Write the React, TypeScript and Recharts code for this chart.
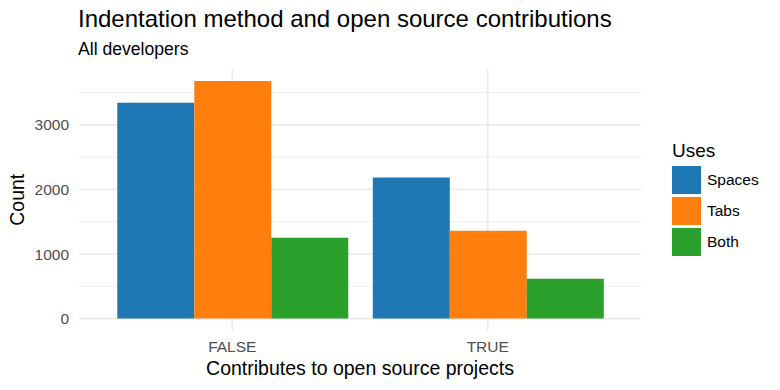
import React from "react";
import { BarChart, Bar, XAxis, YAxis, CartesianGrid } from "recharts";

const categories = ["FALSE", "TRUE"];
const spaces = [3340, 2185];
const tabs = [3680, 1360];
const both = [1250, 618];

const yTicks = [0, 1000, 2000, 3000];
const minorTicks = [500, 1500, 2500, 3500];

const series = [
  { key: "Spaces", color: "#1F77B4" },
  { key: "Tabs", color: "#FF7F0E" },
  { key: "Both", color: "#2CA02C" },
];

const data = categories.map((c, i) => ({
  name: c,
  Spaces: spaces[i],
  Tabs: tabs[i],
  Both: both[i],
}));

const FONT = '"Liberation Sans", Arial, Helvetica, sans-serif';

export default function App() {
  return (
    <div
      style={{
        position: "absolute",
        left: 0,
        top: 0,
        width: 780,
        height: 390,
        background: "#fff",
        fontFamily: FONT,
      }}
    >
      <BarChart
        width={780}
        height={390}
        data={data}
        margin={{ top: 69, right: 139, bottom: 29.5, left: 0 }}
        barCategoryGap="5%"
        barGap={0}
      >
        <CartesianGrid
          vertical={false}
          horizontalValues={minorTicks}
          stroke="#EFEFEF"
          strokeWidth={1}
        />
        <CartesianGrid
          horizontalValues={yTicks}
          verticalValues={categories}
          stroke="#EBEBEB"
          strokeWidth={1.7}
        />
        <XAxis
          dataKey="name"
          height={30}
          padding={{ left: 25.5, right: 25.5 }}
          axisLine={false}
          tickLine={false}
          tickSize={0}
          tickMargin={10}
          tick={{ fill: "#4D4D4D", fontSize: 15.5, fontFamily: FONT }}
        />
        <YAxis
          width={79}
          domain={[-184, 3864]}
          ticks={yTicks}
          allowDataOverflow
          axisLine={false}
          tickLine={false}
          tickSize={0}
          tickMargin={10}
          tick={{ fill: "#4D4D4D", fontSize: 15.5, fontFamily: FONT }}
        />
        {series.map((s) => (
          <Bar key={s.key} dataKey={s.key} fill={s.color} isAnimationActive={false} />
        ))}
      </BarChart>

      <div style={{ position: "absolute", left: 78, top: 7, fontSize: 24, lineHeight: "24px", color: "#000", whiteSpace: "nowrap" }}>
        Indentation method and open source contributions
      </div>
      <div style={{ position: "absolute", left: 78, top: 41, fontSize: 17.6, lineHeight: "17.6px", color: "#000", whiteSpace: "nowrap" }}>
        All developers
      </div>
      <div
        style={{
          position: "absolute",
          left: 79,
          width: 562,
          top: 358.5,
          textAlign: "center",
          fontSize: 19.5,
          lineHeight: "19.5px",
          color: "#000",
          whiteSpace: "nowrap",
        }}
      >
        Contributes to open source projects
      </div>
      <div
        style={{
          position: "absolute",
          left: 18.25 - 100,
          top: 200 - 9.75,
          width: 200,
          height: 19.5,
          textAlign: "center",
          fontSize: 19.5,
          lineHeight: "19.5px",
          color: "#000",
          transform: "rotate(-90deg)",
          whiteSpace: "nowrap",
        }}
      >
        Count
      </div>

      <div style={{ position: "absolute", left: 672, top: 140.6, fontSize: 19, lineHeight: "19px", color: "#000" }}>
        Uses
      </div>
      {series.map((s, i) => (
        <div
          key={s.key}
          style={{
            position: "absolute",
            left: 672,
            top: 166 + i * 31,
            height: 28,
            display: "flex",
            alignItems: "center",
          }}
        >
          <div style={{ width: 29, height: 28, background: s.color }} />
          <span style={{ marginLeft: 6, fontSize: 15.5, color: "#000" }}>{s.key}</span>
        </div>
      ))}
    </div>
  );
}
